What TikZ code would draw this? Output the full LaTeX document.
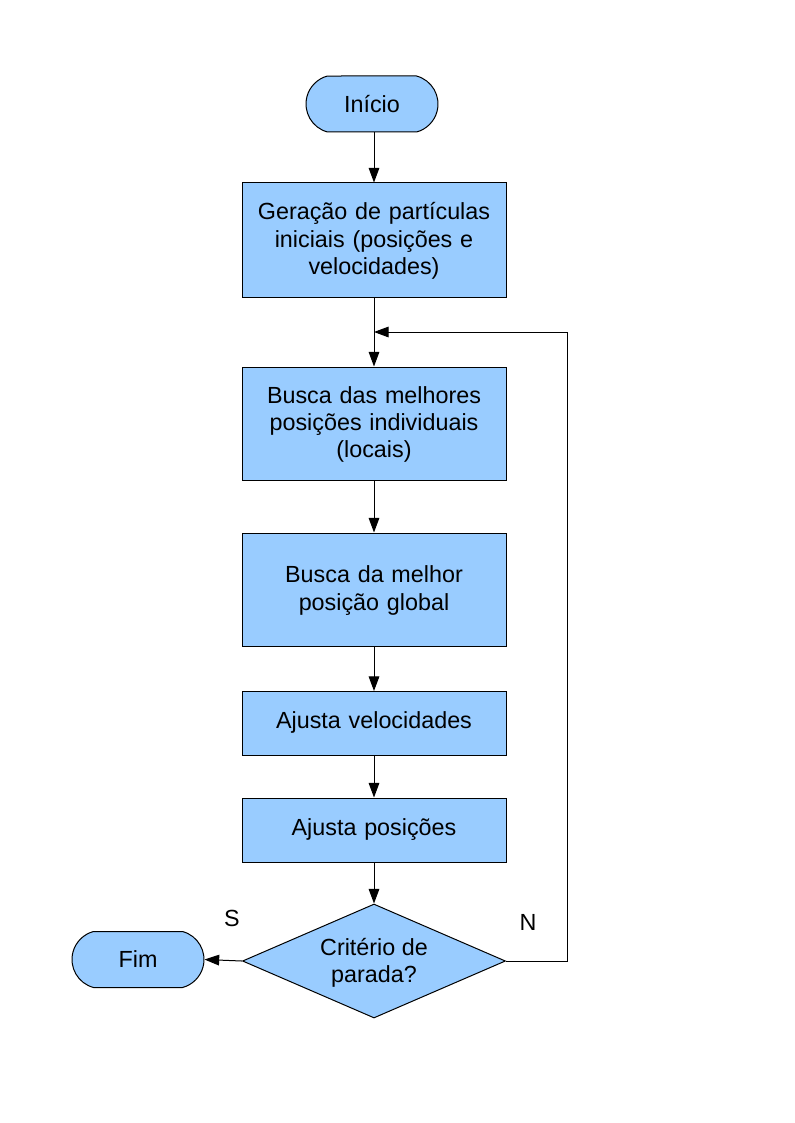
\documentclass[tikz,border=0pt]{standalone}
\usepackage{fontspec}
\setmainfont{Liberation Sans}
\usetikzlibrary{shapes.geometric,shapes.misc,arrows.meta}
\definecolor{boxfill}{HTML}{99CCFF}
\newdimen\pxu \pxu=0.75pt
\begin{document}
\begin{tikzpicture}[x=0.75pt,y=-0.75pt,
  every node/.style={font=\fontsize{17.5}{20.3}\selectfont},
  procbox/.style={draw=black,line width=0.75pt,fill=boxfill,rectangle,inner sep=0pt,
    minimum width=264\pxu,align=center,text width=240\pxu},
  termbox/.style={draw=black,line width=0.75pt,fill=boxfill,rounded rectangle,
    rounded rectangle arc length=150,inner sep=0pt,minimum width=132\pxu,minimum height=56\pxu},
  decbox/.style={draw=black,line width=0.75pt,fill=boxfill,diamond,inner sep=0pt,
    minimum width=263\pxu,minimum height=114\pxu},
  flow/.style={line width=0.75pt,-{Triangle[length=11pt,width=8pt]}},
  lbl/.style={inner sep=0pt}]
\useasboundingbox (0,0) rectangle (794,1123);
\node[termbox] (ini) at (372,104) {Início};
\node[procbox,minimum height=114\pxu] (b1) at (374,240) {\strut Geração de partículas\\iniciais (posições e\\velocidades)};
\node[procbox,minimum height=113\pxu] (b2) at (374,423.5) {\strut Busca das melhores\\posições individuais\\(locais)};
\node[procbox,minimum height=113\pxu] (b3) at (374,589.5) {\strut Busca da melhor\\posição global};
\node[procbox,minimum height=64\pxu] (b4) at (374,723.5) {\strut Ajusta velocidades};
\node[procbox,minimum height=64\pxu] (b5) at (374,830) {\strut Ajusta posições};
\node[decbox] (dec) at (374,961) {};
\node[align=center,inner sep=0pt] (dectxt) at (374,962) {\strut Critério de\\parada?};
\node[termbox] (fim) at (138,959.5) {Fim};
\node[lbl] (s) at (232,918) {S};
\node[lbl] (n) at (528,922) {N};
\coordinate (join) at (374,332);
\coordinate (rc1) at (567,961);
\coordinate (rc2) at (567,332);
\draw[flow] (ini.south -| b1.north) -- (b1.north);
\draw[line width=0.75pt] (b1.south) -- (join);
\draw[flow] (join) -- (b2.north);
\draw[flow] (b2) -- (b3);
\draw[flow] (b3) -- (b4);
\draw[flow] (b4) -- (b5);
\draw[flow] (b5) -- (dec.north);
\draw[flow] (dec.west) -- (fim.east);
\draw[flow] (dec.east) -- (rc1) -- (rc2) -- (join);
\end{tikzpicture}
\end{document}
